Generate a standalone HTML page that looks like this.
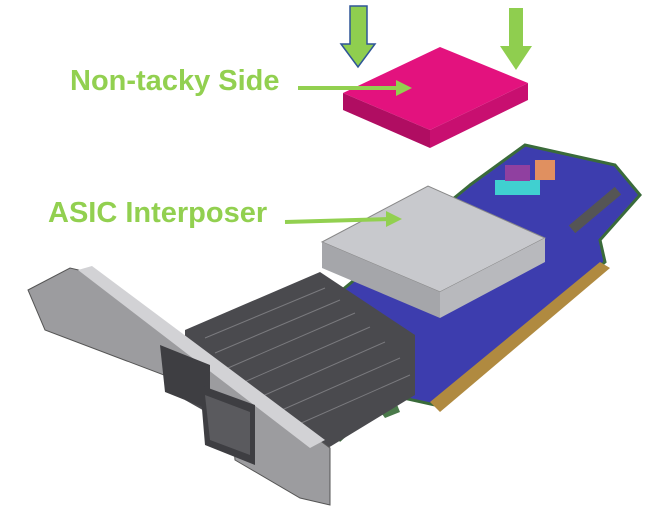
<!DOCTYPE html><html><head><style>body{margin:0;background:#fff}svg{display:block}text{font-family:"Liberation Sans",sans-serif;font-weight:bold;fill:#92d050}</style></head><body>
<svg width="659" height="519" viewBox="0 0 659 519">
<polygon points="350,6 367,6 367,44 375,44 358,67 341,44 350,44" fill="#8fce4f" stroke="#2f5597" stroke-width="1.5"/>
<polygon points="509,8 523,8 523,46 532,46 516,70 500,46 509,46" fill="#8fce4f"/>
<polygon points="343,93 440,47 528,83 430,130" fill="#e3127e"/>
<polygon points="343,93 430,130 430,148 343,110" fill="#b00d62"/>
<polygon points="430,130 528,83 528,100 430,148" fill="#c80f70"/>
<text x="70" y="90" font-size="29">Non-tacky Side</text>
<line x1="298" y1="88" x2="400" y2="88" stroke="#92d050" stroke-width="4"/>
<polygon points="396,80 412,88 396,96" fill="#92d050"/>
<!-- board -->
<polygon points="470,185 525,145 615,165 640,195 600,240 605,262 435,405 390,395 340,440 310,425 330,300" fill="#3d3dae" stroke="#3a6b3a" stroke-width="3"/>
<polygon points="600,262 610,268 440,412 430,402" fill="#b08a40"/>
<polygon points="372,400 392,392 400,412 385,418" fill="#4a7a4a"/>
<rect x="495" y="180" width="45" height="15" fill="#40d0d0"/>
<rect x="505" y="165" width="25" height="16" fill="#9040a0"/>
<rect x="535" y="160" width="20" height="20" fill="#e09060"/>
<rect x="565" y="205" width="60" height="10" fill="#555" transform="rotate(-40 595 210)"/>
<!-- heatsink -->
<polygon points="322,242 428,186 545,238 440,292" fill="#c8c9cd" stroke="#888" stroke-width="1"/>
<polygon points="322,242 440,292 440,318 322,268" fill="#a5a6aa"/>
<polygon points="440,292 545,238 545,262 440,318" fill="#b8b9bd"/>
<!-- cages -->
<polygon points="185,330 320,272 415,335 415,395 300,465 185,400" fill="#4a4a4e"/>
<g stroke="#7a7a7e" stroke-width="1">
<line x1="205" y1="338" x2="325" y2="288"/><line x1="215" y1="353" x2="340" y2="300"/><line x1="228" y1="368" x2="355" y2="313"/><line x1="242" y1="383" x2="370" y2="327"/><line x1="258" y1="398" x2="385" y2="342"/><line x1="275" y1="413" x2="400" y2="358"/><line x1="290" y1="428" x2="410" y2="375"/>
</g>
<!-- bracket -->
<polygon points="28,290 70,268 100,275 330,448 330,505 300,498 235,460 230,400 45,330" fill="#9c9c9f" stroke="#555" stroke-width="1"/>
<polygon points="78,270 92,266 325,440 310,448" fill="#d2d2d5"/>
<polygon points="160,345 210,365 210,410 165,392" fill="#3e3e42"/>
<polygon points="200,385 255,405 255,465 205,445" fill="#3e3e42"/>
<polygon points="205,395 250,412 250,455 210,440" fill="#5a5a5e"/>
<text x="48" y="222" font-size="29">ASIC Interposer</text>
<line x1="285" y1="222" x2="390" y2="219" stroke="#92d050" stroke-width="4"/>
<polygon points="386,211 402,219 386,227" fill="#92d050"/>
</svg></body></html>
